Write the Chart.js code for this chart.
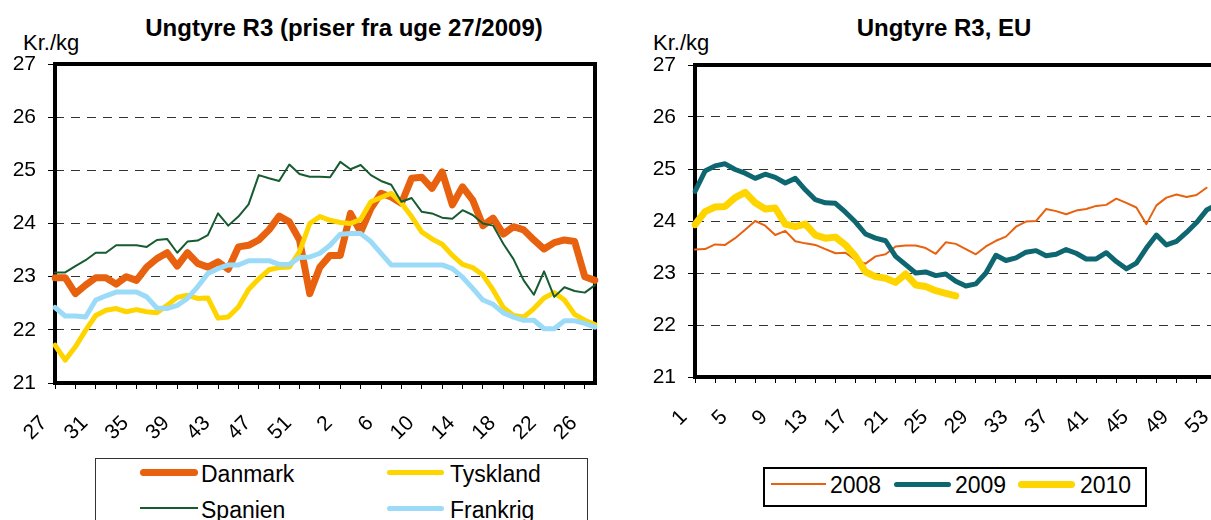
<!DOCTYPE html>
<html>
<head>
<meta charset="utf-8">
<script src="https://cdn.jsdelivr.net/npm/chart.js@4.4.0/dist/chart.umd.min.js"></script>
<style>
html, body { margin:0; padding:0; background:#fff; overflow:hidden; width:1211px; height:520px; }
body { position:relative; font-family:"Liberation Sans", Arial, sans-serif; color:#000; }
canvas { position:absolute; top:0; }
.title { position:absolute; font-weight:bold; font-size:24px; line-height:1; white-space:nowrap; transform:translateX(-50%); }
.unit { position:absolute; font-size:22px; line-height:1; white-space:nowrap; }
.legend { position:absolute; box-sizing:border-box; background:#fff; }
.legend span { position:absolute; white-space:nowrap; font-size:23px; line-height:1; }
.legend i { position:absolute; display:block; border-radius:4px; }
</style>
</head>
<body>
<div class="title" style="left:344px; top:16px;">Ungtyre R3 (priser fra uge 27/2009)</div>
<div class="title" style="left:944px; top:16px;">Ungtyre R3, EU</div>
<div class="unit" style="left:23px; top:32px;">Kr./kg</div>
<div class="unit" style="left:653px; top:32px;">Kr./kg</div>
<canvas id="left" width="610" height="458" style="left:0px;"></canvas>
<canvas id="right" width="590" height="460" style="left:640px;"></canvas>
<div id="legLeft" class="legend" style="left:95px; top:458px; width:493px; height:80px; border:1px solid #333;"></div>
<div id="legRight" class="legend" style="left:763px; top:467px; width:384px; height:40px; border:2px solid #000;"></div>
<script>
// uge 27/2009 - uge 27/2010
var weeksLeft = ['27','28','29','30','31','32','33','34','35','36','37','38','39','40','41','42','43','44','45','46','47','48','49','50','51','52','53',
  '1','2','3','4','5','6','7','8','9','10','11','12','13','14','15','16','17','18','19','20','21','22','23','24','25','26','27'];

var danmark = [22.98,22.98,22.68,22.84,22.98,22.98,22.86,23.0,22.93,23.18,23.34,23.45,23.2,23.45,23.25,23.18,23.28,23.14,23.56,23.59,23.69,23.88,24.14,24.03,23.69,22.68,23.18,
  23.4,23.4,24.19,23.84,24.28,24.57,24.5,24.38,24.85,24.87,24.66,24.97,24.35,24.69,24.44,23.96,24.1,23.8,23.94,23.88,23.69,23.52,23.64,23.69,23.66,23.0,22.93];
var tyskland = [21.71,21.43,21.68,21.99,22.27,22.37,22.4,22.34,22.38,22.34,22.32,22.46,22.61,22.65,22.59,22.6,22.22,22.24,22.43,22.76,22.96,23.13,23.17,23.18,23.47,24.0,24.13,
  24.06,24.02,24.0,24.08,24.41,24.49,24.57,24.38,24.13,23.84,23.71,23.61,23.4,23.23,23.17,23.03,22.75,22.42,22.27,22.24,22.4,22.6,22.7,22.56,22.29,22.18,22.1];
var spanien = [23.08,23.08,23.2,23.31,23.45,23.45,23.59,23.59,23.59,23.56,23.69,23.71,23.45,23.66,23.68,23.78,24.19,23.96,24.13,24.36,24.91,24.85,24.8,25.11,24.93,24.88,24.88,
  24.87,25.16,25.02,25.1,24.91,24.8,24.73,24.41,24.48,24.22,24.19,24.11,24.09,24.25,24.16,24.0,23.96,23.62,23.33,22.93,22.66,23.1,22.62,22.8,22.73,22.7,22.84];
var frankrig = [22.42,22.26,22.26,22.24,22.56,22.64,22.71,22.71,22.71,22.62,22.41,22.4,22.46,22.59,22.81,23.06,23.15,23.22,23.22,23.3,23.3,23.3,23.23,23.23,23.36,23.37,23.44,
  23.59,23.8,23.81,23.81,23.66,23.44,23.22,23.22,23.22,23.22,23.22,23.22,23.15,22.99,22.78,22.56,22.48,22.32,22.24,22.18,22.18,22.02,22.02,22.17,22.17,22.12,22.05];

// EU, uge 1-53
var weeksRight = ['1','2','3','4','5','6','7','8','9','10','11','12','13','14','15','16','17','18','19','20','21','22','23','24','25','26','27',
  '28','29','30','31','32','33','34','35','36','37','38','39','40','41','42','43','44','45','46','47','48','49','50','51','52','53'];
var eu2008 = [23.45,23.46,23.55,23.54,23.67,23.83,24.0,23.91,23.73,23.81,23.61,23.57,23.54,23.46,23.38,23.39,23.25,23.18,23.32,23.36,23.51,23.53,23.53,23.48,23.37,23.59,
  23.56,23.46,23.36,23.51,23.62,23.7,23.89,23.99,24.0,24.23,24.19,24.13,24.2,24.23,24.29,24.31,24.43,24.35,24.26,23.94,24.3,24.45,24.51,24.46,24.5,24.64];
var eu2009 = [24.57,24.96,25.06,25.1,24.99,24.92,24.82,24.9,24.84,24.73,24.82,24.6,24.41,24.35,24.34,24.17,23.98,23.75,23.67,23.62,23.32,23.16,23.0,23.02,22.95,22.98,
  22.84,22.75,22.79,23.0,23.34,23.24,23.29,23.4,23.43,23.33,23.36,23.45,23.38,23.27,23.27,23.39,23.22,23.08,23.19,23.48,23.73,23.54,23.61,23.78,23.97,24.21,24.31];
var eu2010 = [23.93,24.18,24.27,24.28,24.45,24.55,24.35,24.23,24.25,23.94,23.89,23.94,23.73,23.67,23.69,23.54,23.32,23.02,22.93,22.9,22.82,22.98,22.77,22.74,22.66,22.61,22.56];

var yTicks = [21, 22, 23, 24, 25, 26, 27];

Chart.defaults.font.family = '"Liberation Sans", Arial, sans-serif';
Chart.defaults.color = '#000';

var frame = {
  id: 'frame',
  beforeDatasetsDraw: function(chart) {
    var a = chart.chartArea, c = chart.ctx;
    c.save();
    c.strokeStyle = '#000';
    c.lineWidth = 4;
    c.strokeRect(a.left, a.top, a.right - a.left, a.bottom - a.top);
    c.restore();
  }
};

function line(label, data, color, width, order) {
  return { label: label, data: data, borderColor: color, backgroundColor: color, borderWidth: width,
    pointRadius: 0, tension: 0, fill: false, order: order, borderCapStyle: 'round', borderJoinStyle: 'round' };
}

function opts(top, xHeight, rightPad) {
  return {
    responsive: false,
    animation: false,
    layout: { autoPadding: false, padding: { top: top, right: rightPad, left: 0, bottom: 0 } },
    plugins: { legend: { display: false }, tooltip: { enabled: false } },
    scales: {
      x: {
        offset: false,
        afterFit: function(s) { s.height = xHeight; s.paddingLeft = 0; s.paddingRight = 0; },
        border: { display: false },
        grid: { drawOnChartArea: false, tickLength: 6, lineWidth: 1,
          tickColor: function(c) { return c.index % 2 === 0 ? '#000' : 'rgba(0,0,0,0)'; } },
        ticks: { autoSkip: false, minRotation: 45, maxRotation: 45, labelOffset: -11, padding: 22,
          font: { size: 21 }, color: '#000',
          callback: function(v, i) { return i % 4 === 0 ? this.getLabelForValue(v) : ''; } }
      },
      y: {
        min: yTicks[0], max: yTicks[yTicks.length - 1],
        afterFit: function(s) { s.width = 55; s.paddingTop = 0; s.paddingBottom = 0; },
        afterBuildTicks: function(s) { s.ticks = yTicks.map(function(v) { return { value: v }; }); },
        border: { display: false, dash: [9, 7] },
        grid: { lineWidth: 1, tickLength: 7, tickColor: '#000', tickBorderDash: [],
          color: function(c) { return (c.tick && (c.tick.value === 21 || c.tick.value === 27)) ? 'rgba(0,0,0,0)' : '#333'; } },
        ticks: { padding: 12, font: { size: 21 }, color: '#000' }
      }
    }
  };
}

var leftSets = [
  line('Danmark', danmark, '#E8610E', 7, 3),
  line('Tyskland', tyskland, '#FFD500', 5, 2),
  line('Spanien', spanien, '#165C30', 2, 1),
  line('Frankrig', frankrig, '#9BDBF7', 5, 0)
];
var rightSets = [
  line('2008', eu2008, '#E8610E', 2, 2),
  line('2009', eu2009, '#0D6670', 5, 1),
  line('2010', eu2010, '#FFD500', 7, 0)
];

new Chart(document.getElementById('left'), {
  type: 'line',
  data: { labels: weeksLeft, datasets: leftSets },
  options: opts(64, 75, 15),
  plugins: [frame]
});

new Chart(document.getElementById('right'), {
  type: 'line',
  data: { labels: weeksRight, datasets: rightSets },
  options: opts(65, 83, 13.4),
  plugins: [frame]
});

// legends (html), built from the datasets
function legend(id, sets, place) {
  var box = document.getElementById(id);
  sets.forEach(function(ds, k) {
    var p = place[k];
    var sw = document.createElement('i');
    sw.style.left = p[0] + 'px';
    sw.style.width = p[1] + 'px';
    sw.style.height = ds.borderWidth + 'px';
    sw.style.top = (p[2] - ds.borderWidth / 2) + 'px';
    sw.style.background = ds.borderColor;
    if (ds.borderWidth < 3) sw.style.borderRadius = '0';
    box.appendChild(sw);
    var t = document.createElement('span');
    t.textContent = ds.label;
    t.style.left = p[3] + 'px';
    t.style.top = p[4] + 'px';
    box.appendChild(t);
  });
}
legend('legLeft', leftSets, [[44, 58, 13, 105, 4], [291, 57, 13, 354, 4], [44, 58, 49, 105, 40], [291, 57, 49, 354, 40]]);
legend('legRight', rightSets, [[6, 55, 15, 65, 5], [129, 57, 15, 190, 5], [253, 57, 15, 315, 5]]);
</script>
</body>
</html>
